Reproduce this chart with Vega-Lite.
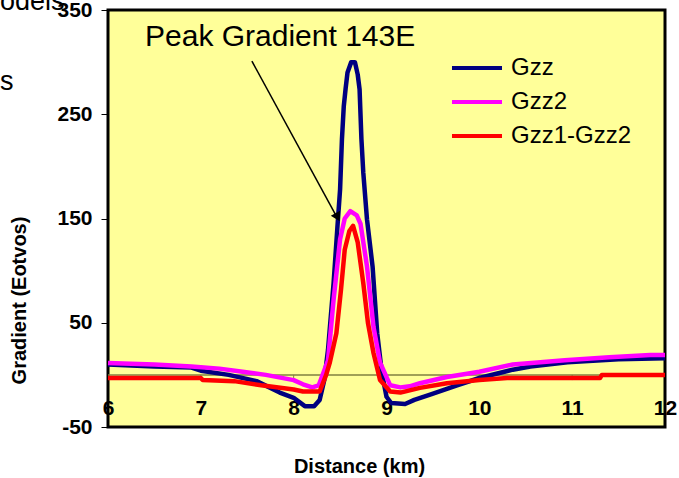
{
  "$schema": "https://vega.github.io/schema/vega-lite/v6.json",
  "width": 557,
  "height": 417,
  "autosize": {"type": "none"},
  "padding": {"left": 108, "top": 10, "right": 14, "bottom": 51},
  "background": "white",
  "config": {
    "font": "Liberation Sans",
    "view": {"fill": "#FFFF99", "stroke": "#000000", "strokeWidth": 3}
  },
  "datasets": {
    "zero": [{"x": 6, "y": 0}, {"x": 12, "y": 0}],
    "ticks": [{"x": 7, "y": 0}, {"x": 8, "y": 0}, {"x": 9, "y": 0}, {"x": 10, "y": 0}, {"x": 11, "y": 0}],
    "gradient": [
      {"series": "Gzz", "x": 6.0, "y": 10},
      {"series": "Gzz", "x": 6.5, "y": 8},
      {"series": "Gzz", "x": 6.9, "y": 7},
      {"series": "Gzz", "x": 7.0, "y": 4},
      {"series": "Gzz", "x": 7.3, "y": 0},
      {"series": "Gzz", "x": 7.6, "y": -6},
      {"series": "Gzz", "x": 7.85, "y": -17},
      {"series": "Gzz", "x": 8.0, "y": -22},
      {"series": "Gzz", "x": 8.12, "y": -30},
      {"series": "Gzz", "x": 8.22, "y": -30},
      {"series": "Gzz", "x": 8.28, "y": -24},
      {"series": "Gzz", "x": 8.33, "y": -5},
      {"series": "Gzz", "x": 8.37, "y": 24},
      {"series": "Gzz", "x": 8.43, "y": 88},
      {"series": "Gzz", "x": 8.47, "y": 140},
      {"series": "Gzz", "x": 8.5, "y": 178},
      {"series": "Gzz", "x": 8.52, "y": 226},
      {"series": "Gzz", "x": 8.54, "y": 258},
      {"series": "Gzz", "x": 8.56, "y": 275},
      {"series": "Gzz", "x": 8.58, "y": 290},
      {"series": "Gzz", "x": 8.62, "y": 300},
      {"series": "Gzz", "x": 8.66, "y": 300},
      {"series": "Gzz", "x": 8.69, "y": 288},
      {"series": "Gzz", "x": 8.71, "y": 274},
      {"series": "Gzz", "x": 8.73, "y": 226},
      {"series": "Gzz", "x": 8.75, "y": 194},
      {"series": "Gzz", "x": 8.79, "y": 149},
      {"series": "Gzz", "x": 8.85, "y": 104},
      {"series": "Gzz", "x": 8.9, "y": 40},
      {"series": "Gzz", "x": 8.95, "y": 2},
      {"series": "Gzz", "x": 9.0, "y": -21},
      {"series": "Gzz", "x": 9.05, "y": -27},
      {"series": "Gzz", "x": 9.2, "y": -28},
      {"series": "Gzz", "x": 9.3, "y": -24},
      {"series": "Gzz", "x": 9.47, "y": -19},
      {"series": "Gzz", "x": 9.76, "y": -10},
      {"series": "Gzz", "x": 10.0, "y": -3},
      {"series": "Gzz", "x": 10.36, "y": 5},
      {"series": "Gzz", "x": 10.55, "y": 8},
      {"series": "Gzz", "x": 10.95, "y": 12},
      {"series": "Gzz", "x": 11.5, "y": 15},
      {"series": "Gzz", "x": 12.0, "y": 16},
      {"series": "Gzz2", "x": 6.0, "y": 11.5},
      {"series": "Gzz2", "x": 6.5, "y": 10},
      {"series": "Gzz2", "x": 6.9, "y": 8},
      {"series": "Gzz2", "x": 7.2, "y": 6},
      {"series": "Gzz2", "x": 7.45, "y": 3},
      {"series": "Gzz2", "x": 7.7, "y": 0},
      {"series": "Gzz2", "x": 8.0, "y": -5},
      {"series": "Gzz2", "x": 8.1, "y": -9},
      {"series": "Gzz2", "x": 8.2, "y": -12},
      {"series": "Gzz2", "x": 8.27, "y": -10},
      {"series": "Gzz2", "x": 8.32, "y": 2},
      {"series": "Gzz2", "x": 8.37, "y": 14},
      {"series": "Gzz2", "x": 8.43, "y": 72},
      {"series": "Gzz2", "x": 8.5, "y": 130},
      {"series": "Gzz2", "x": 8.55, "y": 150},
      {"series": "Gzz2", "x": 8.61, "y": 157},
      {"series": "Gzz2", "x": 8.68, "y": 153},
      {"series": "Gzz2", "x": 8.72, "y": 145},
      {"series": "Gzz2", "x": 8.79, "y": 104},
      {"series": "Gzz2", "x": 8.86, "y": 46},
      {"series": "Gzz2", "x": 8.93, "y": 12},
      {"series": "Gzz2", "x": 9.04, "y": -10},
      {"series": "Gzz2", "x": 9.15, "y": -12},
      {"series": "Gzz2", "x": 9.25, "y": -11},
      {"series": "Gzz2", "x": 9.36, "y": -8},
      {"series": "Gzz2", "x": 9.65, "y": -2},
      {"series": "Gzz2", "x": 10.0, "y": 3},
      {"series": "Gzz2", "x": 10.36, "y": 10},
      {"series": "Gzz2", "x": 10.92, "y": 14},
      {"series": "Gzz2", "x": 11.4, "y": 17},
      {"series": "Gzz2", "x": 11.84, "y": 19},
      {"series": "Gzz2", "x": 12.0, "y": 19},
      {"series": "Gzz1-Gzz2", "x": 6.0, "y": -3},
      {"series": "Gzz1-Gzz2", "x": 7.0, "y": -3},
      {"series": "Gzz1-Gzz2", "x": 7.02, "y": -5},
      {"series": "Gzz1-Gzz2", "x": 7.36, "y": -6},
      {"series": "Gzz1-Gzz2", "x": 7.65, "y": -10},
      {"series": "Gzz1-Gzz2", "x": 8.0, "y": -14},
      {"series": "Gzz1-Gzz2", "x": 8.1, "y": -16},
      {"series": "Gzz1-Gzz2", "x": 8.28, "y": -16},
      {"series": "Gzz1-Gzz2", "x": 8.35, "y": 0},
      {"series": "Gzz1-Gzz2", "x": 8.39, "y": 12},
      {"series": "Gzz1-Gzz2", "x": 8.46, "y": 40},
      {"series": "Gzz1-Gzz2", "x": 8.51, "y": 82},
      {"series": "Gzz1-Gzz2", "x": 8.55, "y": 120},
      {"series": "Gzz1-Gzz2", "x": 8.6, "y": 138},
      {"series": "Gzz1-Gzz2", "x": 8.64, "y": 143},
      {"series": "Gzz1-Gzz2", "x": 8.69, "y": 127},
      {"series": "Gzz1-Gzz2", "x": 8.75, "y": 88},
      {"series": "Gzz1-Gzz2", "x": 8.8, "y": 50},
      {"series": "Gzz1-Gzz2", "x": 8.86, "y": 21},
      {"series": "Gzz1-Gzz2", "x": 8.93, "y": -5},
      {"series": "Gzz1-Gzz2", "x": 9.04, "y": -16},
      {"series": "Gzz1-Gzz2", "x": 9.15, "y": -17},
      {"series": "Gzz1-Gzz2", "x": 9.36, "y": -12.5},
      {"series": "Gzz1-Gzz2", "x": 9.65, "y": -8},
      {"series": "Gzz1-Gzz2", "x": 10.0, "y": -5},
      {"series": "Gzz1-Gzz2", "x": 10.3, "y": -3},
      {"series": "Gzz1-Gzz2", "x": 11.3, "y": -3},
      {"series": "Gzz1-Gzz2", "x": 11.32, "y": 0},
      {"series": "Gzz1-Gzz2", "x": 12.0, "y": 0}
    ],
    "arrow": [{"x": 7.55, "y": 301, "x2": 8.467, "y2": 151}],
    "arrowhead": [{"x": 8.473, "y": 151.3}],
    "note": [{"x": 6.399, "y": 324, "label": "Peak Gradient 143E"}],
    "stray": [
      {"x": 4.837, "y": 350, "label": "odels"},
      {"x": 4.837, "y": 273, "label": "s"}
    ]
  },
  "encoding": {
    "x": {
      "field": "x",
      "type": "quantitative",
      "scale": {"domain": [6, 12], "nice": false, "zero": false},
      "axis": {
        "title": "Distance (km)",
        "titleFontSize": 20,
        "titleFontWeight": "bold",
        "titleColor": "black",
        "titleX": 251,
        "titleY": 39,
        "titleAlign": "center",
        "titleBaseline": "middle",
        "values": [6, 7, 8, 9, 10, 11, 12],
        "labelExpr": "'' + datum.value",
        "domain": false,
        "ticks": false,
        "tickSize": 0,
        "labelPadding": -19,
        "labelBaseline": "middle",
        "labelFontSize": 21,
        "labelFontWeight": "bold",
        "labelColor": "black",
        "labelFlush": false,
        "labelOverlap": false,
        "labelBound": false,
        "grid": false
      }
    },
    "y": {
      "field": "y",
      "type": "quantitative",
      "scale": {"domain": [-50, 350], "nice": false, "zero": false},
      "axis": {
        "title": "Gradient (Eotvos)",
        "titleFontSize": 20,
        "titleFontWeight": "bold",
        "titleColor": "black",
        "titleAngle": -90,
        "titleX": -89,
        "titleY": 290,
        "titleAlign": "center",
        "titleBaseline": "middle",
        "values": [-50, 50, 150, 250, 350],
        "labelExpr": "'' + datum.value",
        "domain": false,
        "ticks": true,
        "tickSize": 7,
        "tickColor": "black",
        "labelPadding": 9,
        "labelFontSize": 21,
        "labelFontWeight": "bold",
        "labelColor": "black",
        "labelFlush": false,
        "labelOverlap": false,
        "labelBound": false,
        "grid": false
      }
    }
  },
  "layer": [
    {
      "data": {"name": "zero"},
      "mark": {"type": "line", "color": "#808040", "strokeWidth": 1.5}
    },
    {
      "data": {"name": "ticks"},
      "mark": {"type": "rule", "color": "#808040", "strokeWidth": 1},
      "encoding": {"y2": {"datum": -5}}
    },
    {
      "data": {"name": "gradient"},
      "mark": {"type": "line", "strokeWidth": 4.5, "strokeJoin": "round"},
      "encoding": {
        "color": {
          "field": "series",
          "type": "nominal",
          "scale": {"domain": ["Gzz", "Gzz2", "Gzz1-Gzz2"], "range": ["#000080", "#FF00FF", "#FF0000"]},
          "legend": {
            "title": null,
            "orient": "none",
            "legendX": 357,
            "legendY": 46,
            "symbolType": "M-3,0H3",
            "symbolSize": 278,
            "symbolStrokeWidth": 4,
            "labelFontSize": 24,
            "labelColor": "black",
            "labelOffset": 22,
            "rowPadding": 10,
            "padding": 0
          }
        }
      }
    },
    {
      "data": {"name": "arrow"},
      "mark": {"type": "rule", "color": "black", "strokeWidth": 1.5},
      "encoding": {"x2": {"field": "x2"}, "y2": {"field": "y2"}}
    },
    {
      "data": {"name": "arrowhead"},
      "mark": {"type": "point", "shape": "triangle-up", "filled": true, "color": "black", "opacity": 1, "size": 110, "angle": 151.6}
    },
    {
      "data": {"name": "note"},
      "mark": {"type": "text", "align": "left", "baseline": "middle", "fontSize": 30, "color": "black"},
      "encoding": {"text": {"field": "label"}}
    },
    {
      "data": {"name": "stray"},
      "mark": {"type": "text", "align": "left", "baseline": "alphabetic", "fontSize": 27, "color": "black"},
      "encoding": {"text": {"field": "label"}}
    }
  ]
}
